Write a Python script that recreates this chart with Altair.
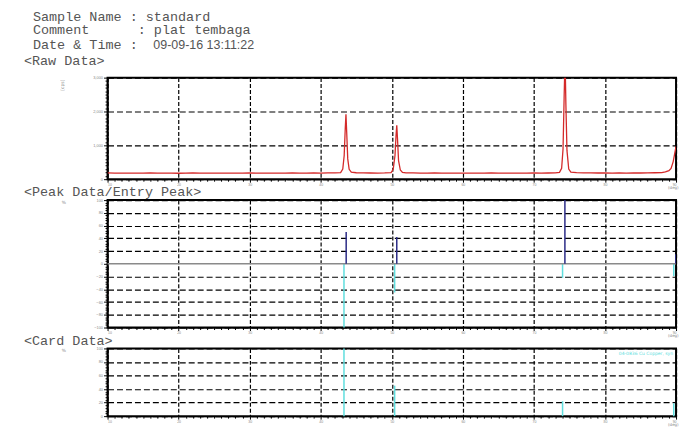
import altair as alt
import pandas as pd

# ---------------- data ----------------
NB = "\u00a0"
header_lines = ["Sample Name : standard",
                "Comment" + NB * 6 + ": plat tembaga",
                "Date & Time : "]
header_date = "09-09-16 13:11:22"
section_titles = ["<Raw Data>", "<Peak Data/Entry Peak>", "<Card Data>"]

raw_two_theta = [10, 11, 12, 13, 14, 15, 16, 17, 18, 19, 20, 21, 22, 23, 24, 25, 26, 27, 28, 29,
                 30, 31, 32, 33, 34, 35, 36, 37, 38, 39, 40, 41, 42,
                 42.8, 43.1, 43.3, 43.45, 43.55, 43.65, 43.8, 44.0, 44.3, 45,
                 46, 47, 48, 49,
                 49.9, 50.2, 50.45, 50.6, 50.7, 50.8, 50.95, 51.2, 51.5, 52,
                 53, 54, 55, 56, 57, 58, 59, 60, 61, 62, 63, 64, 65, 66, 67, 68, 69, 70, 71, 72, 73,
                 73.6, 73.9, 74.1, 74.25, 74.38, 74.5, 74.65, 74.9, 75.2, 76,
                 77, 78, 79, 80, 81, 82, 83, 84, 85, 86, 87, 88,
                 88.5, 89, 89.3, 89.6, 89.85, 90]
raw_cps = [185, 180, 178, 182, 176, 179, 183, 177, 181, 178, 175, 180, 184, 179, 176, 181, 178, 182, 177, 180,
           183, 179, 176, 182, 180, 178, 185, 181, 179, 183, 180, 186, 184,
           195, 300, 700, 1500, 1920, 1400, 600, 290, 205, 190,
           186, 183, 181, 185,
           195, 290, 700, 1300, 1590, 1200, 550, 270, 200, 188,
           184, 181, 179, 183, 180, 177, 182, 179, 176, 181, 178, 183, 180, 177, 182, 179, 181, 184, 180, 183, 186,
           200, 320, 900, 2400, 3600, 2200, 850, 300, 210, 192,
           188, 185, 183, 186, 182, 184, 181, 185, 183, 187, 190, 196,
           215, 250, 320, 520, 800, 970]

peak_two_theta = [43.58, 50.70, 74.36, 89.97]
peak_intensity = [50, 42, 100, 15]
card_two_theta = [43.27, 50.40, 74.03, 89.68]
card_intensity = [100, 45, 22, 19]
card_label = "04-0836  Cu  Copper, syn"

x_tick_values = list(range(10, 91))
raw_tick_values = list(range(0, 3001, 100))
peak_tick_values = list(range(-100, 101, 4))
card_tick_values = list(range(0, 101, 4))

# ---------------- styling ----------------
W = 571
H1, H2, H3 = 102, 128, 68
RED = "#d42a2a"
NAVY = "#2b2b86"
CYAN = "#5fdede"
MONO = "Liberation Mono"
GREY_TXT = "#555555"


def x_axis():
    return alt.Axis(values=x_tick_values, title=None, grid=True,
                    gridColor="black", gridDash=[4, 2], gridWidth=1.2,
                    gridOpacity={"condition": {"test": "datum.value % 10 === 0", "value": 1}, "value": 0},
                    tickSize={"condition": {"test": "datum.value % 10 === 0", "value": 3}, "value": 2},
                    labelExpr="datum.value % 10 === 0 ? datum.label : ''",
                    labelOverlap=False, labelFontSize=3.5, labelColor="#888888",
                    labelPadding=0.5, domainColor="black", tickColor="black")


def y_axis(values, major, skip_zero=False):
    test = f"datum.value % {major} === 0"
    gtest = test + (" && datum.value !== 0" if skip_zero else "")
    return alt.Axis(values=values, title=None, grid=True,
                    gridColor="black", gridDash=[6, 3], gridWidth=1.2,
                    gridOpacity={"condition": {"test": gtest, "value": 1}, "value": 0},
                    tickSize={"condition": {"test": test, "value": 4}, "value": 2.5},
                    labelExpr=f"{test} ? datum.label : ''",
                    labelOverlap=False, labelFontSize=4, labelColor="#888888",
                    labelPadding=1, domainColor="black", tickColor="black")


xscale = alt.Scale(domain=[10, 90], nice=False, zero=False)


def label(txt, x, y, size=13.5, color=GREY_TXT, font=MONO, align="left", angle=0):
    return alt.Chart(pd.DataFrame({"t": [txt]})).mark_text(
        align=align, baseline="alphabetic", font=font, fontSize=size, color=color, angle=angle
    ).encode(text="t:N", x=alt.value(x), y=alt.value(y))


# ---------------- panel 1: raw data ----------------
raw_df = pd.DataFrame({"tt": raw_two_theta, "cps": raw_cps})
raw_line = alt.Chart(raw_df).mark_line(color=RED, strokeWidth=1.3, clip=True).encode(
    x=alt.X("tt:Q", scale=xscale, axis=x_axis()),
    y=alt.Y("cps:Q", scale=alt.Scale(domain=[0, 3000], nice=False),
            axis=y_axis(raw_tick_values, 1000)))

p1 = alt.layer(
    raw_line,
    label(header_lines[0], -75, -57),
    label(header_lines[1], -75, -44),
    label(header_lines[2], -75, -29),
    label(header_date, 46, -29, size=12.5, font="Liberation Sans Narrow, Liberation Sans"),
    label(section_titles[0], -84, -13),
    label("[cps]", -44, 2, size=4.5, color="#888888", font="DejaVu Sans", align="right", angle=270),
    label("(deg)", W - 8, H1 + 10, size=4, color="#888888", font="DejaVu Sans"),
).properties(width=W, height=H1)

# ---------------- panel 2: peak data ----------------
peak_df = pd.DataFrame({"tt": peak_two_theta, "v": peak_intensity})
card_neg_df = pd.DataFrame({"tt": card_two_theta, "v": [-c for c in card_intensity]})
yscale2 = alt.Scale(domain=[-100, 100], nice=False)
x2 = alt.X("tt:Q", scale=xscale, axis=x_axis())
ax2 = y_axis(peak_tick_values, 20, skip_zero=True)

zero_line = alt.Chart(pd.DataFrame({"z": [0]})).mark_rule(color="#8a8a8a", strokeWidth=1.5).encode(
    y=alt.Y("z:Q", scale=yscale2, axis=ax2))
card_down = alt.Chart(card_neg_df).mark_rule(color=CYAN, strokeWidth=1.5).encode(
    x=x2, y=alt.Y("v:Q", scale=yscale2, axis=ax2), y2=alt.datum(0))
peak_up = alt.Chart(peak_df).mark_rule(color=NAVY, strokeWidth=1.5, clip=True).encode(
    x=x2, y=alt.Y("v:Q", scale=yscale2, axis=ax2), y2=alt.datum(0))

p2 = alt.layer(
    card_down, zero_line, peak_up,
    label(section_titles[1], -84, -4),
    label("%", -44, 4, size=4.5, color="#888888", font="DejaVu Sans", align="center"),
    label("(deg)", W - 8, H2 + 10, size=4, color="#888888", font="DejaVu Sans"),
).properties(width=W, height=H2)

# ---------------- panel 3: card data ----------------
card_df = pd.DataFrame({"tt": card_two_theta, "v": card_intensity})
card_bars = alt.Chart(card_df).mark_rule(color=CYAN, strokeWidth=1.5).encode(
    x=alt.X("tt:Q", scale=xscale, axis=x_axis()),
    y=alt.Y("v:Q", scale=alt.Scale(domain=[0, 100], nice=False), axis=y_axis(card_tick_values, 20)),
    y2=alt.datum(0))

p3 = alt.layer(
    card_bars,
    label(section_titles[2], -84, -3),
    label("%", -44, 4, size=4.5, color="#888888", font="DejaVu Sans", align="center"),
    label(card_label, W - 3, 7, size=4.5, color=CYAN, font="DejaVu Sans", align="right"),
    label("(deg)", W - 8, H3 + 10, size=4, color="#888888", font="DejaVu Sans"),
).properties(width=W, height=H3)

chart = alt.vconcat(p1, p2, p3, spacing=21, bounds="flush").properties(
    padding={"left": 15, "top": 0, "right": 5, "bottom": 5}
).configure_view(stroke="black", strokeWidth=2)

chart.save("out.html", embed_options={"renderer": "svg", "actions": False})
